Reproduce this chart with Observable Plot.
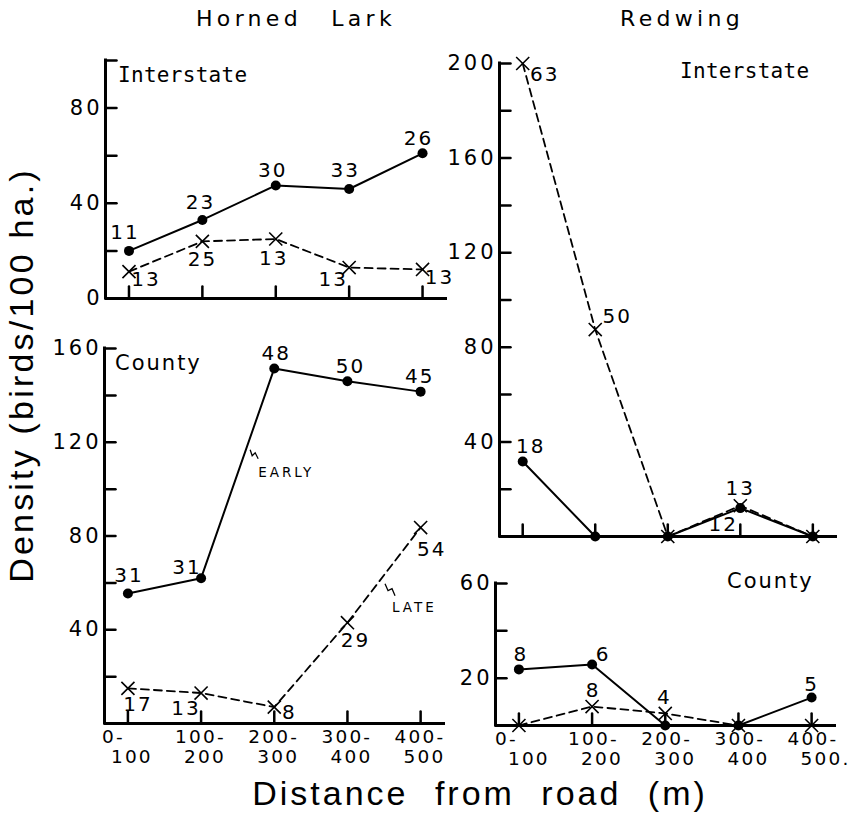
<!DOCTYPE html>
<html>
<head>
<meta charset="utf-8">
<script src="https://cdn.jsdelivr.net/npm/d3@7"></script>
<script src="https://cdn.jsdelivr.net/npm/@observablehq/plot@0.6"></script>
<style>
  html, body { margin: 0; padding: 0; background: #fff; }
  #wrap { position: relative; width: 863px; height: 820px; overflow: hidden; background: #fff; }
  #wrap > svg { position: absolute; left: 0; top: 0; }
  g[aria-description="ytick"] text { letter-spacing: 3px; }
  g[aria-description="xtick"] text { letter-spacing: 2.2px; }
  g[aria-description="num"] text { letter-spacing: 2px; }
</style>
</head>
<body>
<div id="wrap"></div>
<script>
// ---------------- DATA ----------------
const distances = ["0-100", "100-200", "200-300", "300-400", "400-500"];
const tickLine1 = ["0-", "100-", "200-", "300-", "400-"];
const tickLine2Left = ["100", "200", "300", "400", "500"];
const tickLine2Right = ["100", "200", "300", "400", "500."];

// Horned Lark – Interstate
const hlInterEarly = [20, 33, 47.5, 46, 61];
const hlInterEarlyN = [11, 23, 30, 33, 26];
const hlInterLate = [11.3, 24, 25, 13, 12.2];
const hlInterLateN = [13, 25, 13, 13, 13];

// Horned Lark – County
const hlCountyEarly = [55.5, 62, 151.5, 146, 141.6];
const hlCountyEarlyN = [31, 31, 48, 50, 45];
const hlCountyLate = [15, 13, 7, 43, 83.6];
const hlCountyLateN = [17, 13, 8, 29, 54];

// Redwing – Interstate
const rwInterEarly = [31.7, 0, 0, 12, 0];
const rwInterEarlyN = [18, null, null, 12, null];
const rwInterLate = [200, 87.5, 0, 13, 0];
const rwInterLateN = [63, 50, null, 13, null];

// Redwing – County
const rwCountyEarly = [23.7, 25.8, 0, 0, 11.8];
const rwCountyEarlyN = [8, 6, null, null, 5];
const rwCountyLate = [0, 8, 5.1, 0, 0];
const rwCountyLateN = [null, 8, 4, null, null];

// y-axis ticks and labels
const hlInterTicks = [0, 20, 40, 60, 80, 100];
const hlInterTickLabels = [0, 40, 80];
const hlCountyTicks = [0, 20, 40, 60, 80, 100, 120, 140, 160];
const hlCountyTickLabels = [40, 80, 120, 160];
const rwInterTicks = [0, 20, 40, 60, 80, 100, 120, 140, 160, 180, 200];
const rwInterTickLabels = [40, 80, 120, 160, 200];
const rwCountyTicks = [0, 20, 40, 60];
const rwCountyTickLabels = [20, 60];

// ---------------- LAYOUT (offsets of the count labels, px) ----------------
const hlInterEarlyOff = [[-4,-18],[-2,-17],[-3,-15],[-4,-18],[-4,-15]];
const hlInterLateOff  = [[17,8],[0,18],[-2,20],[-16,12],[17,8]];
const hlCountyEarlyOff = [[1,-18],[-14,-11],[2,-15],[3,-15],[-1,-15]];
const hlCountyLateOff  = [[10,16],[-15,16],[15,5],[8,18],[11,22]];
const rwInterEarlyOff = [[8,-15],null,null,[-17,16],null];
const rwInterLateOff  = [[22,11],[22,-13],null,[0,-17],null];
const rwCountyEarlyOff = [[2,-15],[11,-10],null,null,[0,-13]];
const rwCountyLateOff  = [null,[1,-16],[-1,-16],null,null];

const W = 863, H = 820;
const idx = distances.map((d, i) => i);
const xDomain = [-0.32, 4.34];
const tickShape = { draw(ctx, l) { ctx.moveTo(0, 0); ctx.lineTo(0, -l); } };
const NUMFONT = "DejaVu Sans";

function panel(cfg) {
  const {box, yDomain, yTicks, yLabels, early, earlyN, earlyOff, late, lateN, lateOff, xLine2, xl1dx, xl2dx} = cfg;
  const marks = [
    Plot.ruleY([0], {stroke: "#000", strokeWidth: 3}),
    Plot.ruleX([xDomain[0]], {stroke: "#000", strokeWidth: 3, strokeLinecap: "square"}),
    Plot.vector(yTicks, {y: d => d, frameAnchor: "left", length: 11, rotate: 90, anchor: "start", shape: tickShape, stroke: "#000", strokeWidth: 2.5}),
    Plot.vector(idx, {x: i => i, frameAnchor: "bottom", length: 12, rotate: 0, anchor: "start", shape: tickShape, stroke: "#000", strokeWidth: 2.5}),
    Plot.text(yLabels, {y: d => d, frameAnchor: "left", dx: -3, textAnchor: "end", text: d => String(d), fontSize: 21, fontFamily: NUMFONT, fill: "#000", ariaDescription: "ytick"}),
    Plot.line(idx, {x: i => i, y: i => late[i], stroke: "#000", strokeWidth: 1.8, strokeDasharray: "8,5"}),
    Plot.line(idx, {x: i => i, y: i => early[i], stroke: "#000", strokeWidth: 2}),
    Plot.dot(idx, {x: i => i, y: i => early[i], r: 5, fill: "#000", stroke: null}),
    Plot.dot(idx, {x: i => i, y: i => late[i], r: 6, symbol: "times", stroke: "#000", strokeWidth: 1.6})
  ];
  idx.forEach(i => {
    if (earlyN[i] != null) marks.push(Plot.text([i], {x: i => i, y: i => early[i], text: i => String(earlyN[i]), dx: earlyOff[i][0], dy: earlyOff[i][1], fontSize: 20, fontFamily: NUMFONT, fill: "#000", ariaDescription: "num"}));
    if (lateN[i] != null) marks.push(Plot.text([i], {x: i => i, y: i => late[i], text: i => String(lateN[i]), dx: lateOff[i][0], dy: lateOff[i][1], fontSize: 20, fontFamily: NUMFONT, fill: "#000", ariaDescription: "num"}));
  });
  if (xLine2) {
    marks.push(Plot.text(idx, {x: i => i, frameAnchor: "bottom", text: i => tickLine1[i], textAnchor: "start", dx: xl1dx, dy: 19, fontSize: 18.5, fontFamily: NUMFONT, fill: "#000", ariaDescription: "xtick"}));
    marks.push(Plot.text(idx, {x: i => i, frameAnchor: "bottom", text: i => xLine2[i], textAnchor: "start", dx: xl2dx, dy: 39, fontSize: 18.5, fontFamily: NUMFONT, fill: "#000", ariaDescription: "xtick"}));
  }
  return Plot.plot({
    width: W, height: H,
    marginLeft: box.left, marginRight: W - box.right, marginTop: box.top, marginBottom: H - box.bottom,
    x: {type: "linear", domain: xDomain, axis: null},
    y: {type: "linear", domain: yDomain, axis: null},
    style: {background: "transparent", overflow: "visible"},
    marks
  });
}

const wrap = document.getElementById("wrap");

const tl = panel({box: {left: 105, right: 447, top: 60, bottom: 298}, yDomain: [0, 100], yTicks: hlInterTicks, yLabels: hlInterTickLabels,
  early: hlInterEarly, earlyN: hlInterEarlyN, earlyOff: hlInterEarlyOff, late: hlInterLate, lateN: hlInterLateN, lateOff: hlInterLateOff});
const bl = panel({box: {left: 104, right: 445, top: 348, bottom: 723}, yDomain: [0, 160], yTicks: hlCountyTicks, yLabels: hlCountyTickLabels,
  early: hlCountyEarly, earlyN: hlCountyEarlyN, earlyOff: hlCountyEarlyOff, late: hlCountyLate, lateN: hlCountyLateN, lateOff: hlCountyLateOff,
  xLine2: tickLine2Left, xl1dx: -26, xl2dx: -17});
const tr = panel({box: {left: 499, right: 837, top: 63, bottom: 536}, yDomain: [0, 200], yTicks: rwInterTicks, yLabels: rwInterTickLabels,
  early: rwInterEarly, earlyN: rwInterEarlyN, earlyOff: rwInterEarlyOff, late: rwInterLate, lateN: rwInterLateN, lateOff: rwInterLateOff});
const br = panel({box: {left: 495, right: 836, top: 583, bottom: 725}, yDomain: [0, 60], yTicks: rwCountyTicks, yLabels: rwCountyTickLabels,
  early: rwCountyEarly, earlyN: rwCountyEarlyN, earlyOff: rwCountyEarlyOff, late: rwCountyLate, lateN: rwCountyLateN, lateOff: rwCountyLateOff,
  xLine2: tickLine2Right, xl1dx: -24, xl2dx: -11});

[tl, bl, tr, br].forEach(p => wrap.appendChild(p));

// ---------------- overlay text ----------------
const svg = d3.create("svg").attr("width", W).attr("height", H).attr("viewBox", `0 0 ${W} ${H}`)
  .style("overflow", "visible").style("pointer-events", "none");

function txt(x, y, s, o) {
  const t = svg.append("text").attr("x", x).attr("y", y).text(s)
    .attr("font-family", o.family).attr("font-size", o.size).attr("fill", "#000")
    .attr("text-anchor", o.anchor || "start");
  if (o.ls != null) t.style("letter-spacing", o.ls + "px");
  if (o.ws != null) t.style("word-spacing", o.ws + "px");
  if (o.rotate) t.attr("transform", `rotate(${o.rotate},${x},${y})`);
  return t;
}

txt(296, 26, "Horned Lark", {family: "DejaVu Sans", size: 22, ls: 4.3, ws: 18, anchor: "middle"});
txt(682, 26, "Redwing", {family: "DejaVu Sans", size: 22, ls: 4.3, anchor: "middle"});

txt(118, 82, "Interstate", {family: "DejaVu Sans Mono", size: 21, ls: 0.3});
txt(680, 78, "Interstate", {family: "DejaVu Sans Mono", size: 21, ls: 0.3});
txt(115, 370, "County", {family: "DejaVu Sans", size: 21, ls: 2});
txt(727, 588, "County", {family: "DejaVu Sans", size: 21, ls: 2});

txt(33, 375, "Density (birds/100 ha.)", {family: "Liberation Sans", size: 34, ls: 3.2, anchor: "middle", rotate: -90});
txt(480, 805, "Distance from road (m)", {family: "Liberation Sans", size: 34, ls: 3, ws: 14, anchor: "middle"});

// EARLY / LATE annotations anchored on the County segments
const bx = bl.scale("x"), by = bl.scale("y");
const eax = bx.apply(1.5), eay = by.apply((hlCountyEarly[1] + hlCountyEarly[2]) / 2);
const lax = bx.apply(3.5), lay = by.apply((hlCountyLate[3] + hlCountyLate[4]) / 2);

svg.append("path").attr("d", `M${eax + 13},${eay - 23} l2,6 l3,-3 l3,6`)
  .attr("fill", "none").attr("stroke", "#000").attr("stroke-width", 1.3);
txt(eax + 21, eay + 4, "EARLY", {family: "DejaVu Sans", size: 13.5, ls: 3});

svg.append("path").attr("d", `M${lax + 1.5},${lay + 9} l3,7 l4,-2 l3,7`)
  .attr("fill", "none").attr("stroke", "#000").attr("stroke-width", 1.3);
txt(lax + 8.5, lay + 37, "LATE", {family: "DejaVu Sans", size: 13.5, ls: 3});

wrap.appendChild(svg.node());
</script>
</body>
</html>
